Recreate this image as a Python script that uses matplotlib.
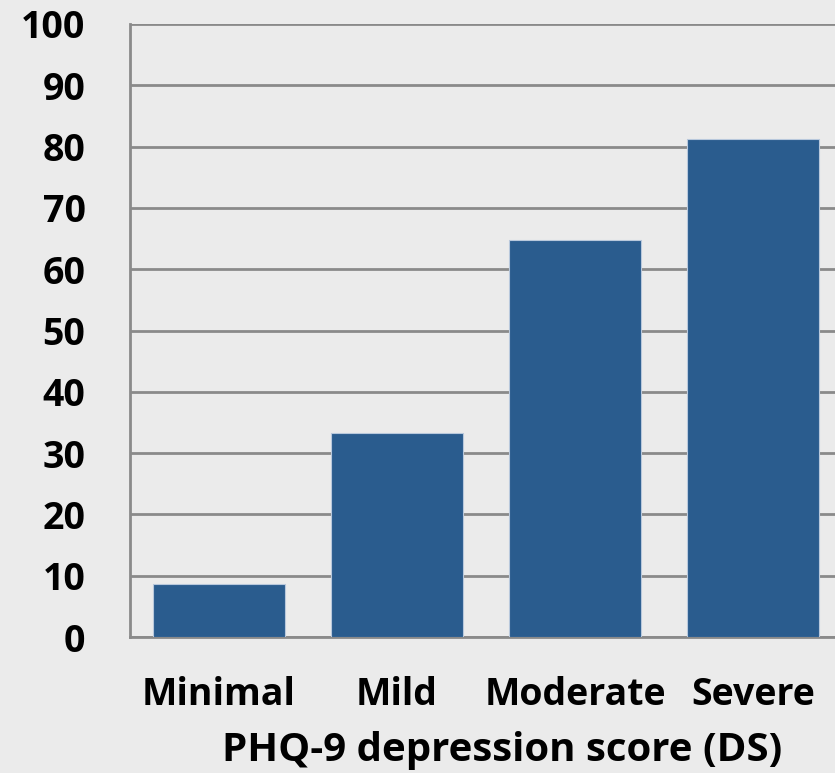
import matplotlib.pyplot as plt
import numpy as np

categories = ["Minimal", "Mild", "Moderate", "Severe"]
values = [8.6, 33.3, 64.8, 81.2]
yticks = [0, 10, 20, 30, 40, 50, 60, 70, 80, 90, 100]

bg = "#ebebeb"
bar_color = "#2a5c8e"
grid_color = "#8a8a8a"

plt.rcParams['font.family'] = ['Open Sans', 'DejaVu Sans']
plt.rcParams['font.weight'] = 'bold'

fig = plt.figure(figsize=(8.35, 7.73), dpi=100, facecolor=bg)
# axes run off the right edge like the reference
ax = fig.add_axes([130 / 835, 1 - 637 / 773, 712 / 835, 613 / 773])
ax.set_facecolor(bg)

x = np.arange(len(categories))
ax.bar(x, values, width=0.736, color=bar_color, edgecolor="#b8c8dc",
       linewidth=0.8, zorder=3)

ax.set_xlim(-0.5, 3.5)
ax.set_ylim(0, 100)
ax.set_yticks(yticks)
ax.yaxis.grid(True, color=grid_color, linewidth=2, zorder=0)
ax.set_axisbelow(True)

for s in ["top", "right"]:
    ax.spines[s].set_visible(False)
for s in ["left", "bottom"]:
    ax.spines[s].set_color(grid_color)
    ax.spines[s].set_linewidth(2)

ax.set_xticks(x)
ax.set_xticklabels(categories)
ax.tick_params(axis="both", length=0, labelsize=27)
ax.tick_params(axis="y", pad=32)
ax.tick_params(axis="x", pad=28)
for lab in ax.get_xticklabels() + ax.get_yticklabels():
    lab.set_fontweight("bold")

ax.set_xlabel("PHQ-9 depression score (DS)", fontsize=29, fontweight="bold")
ax.xaxis.set_label_coords((502 - 130) / 712, -(751 - 637) / 613)
ax.xaxis.label.set_verticalalignment("center")

fig.savefig("out.png", dpi=100, facecolor=bg)
